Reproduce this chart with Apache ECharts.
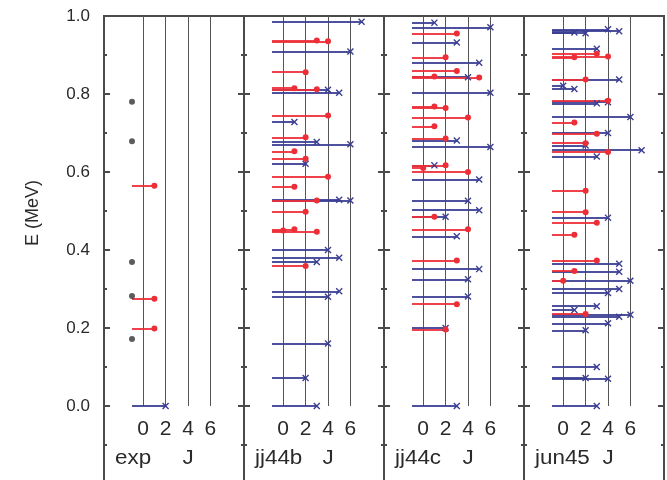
<!DOCTYPE html>
<html><head><meta charset="utf-8">
<script src="https://cdn.jsdelivr.net/npm/echarts@6/dist/echarts.min.js"></script>
<style>html,body{margin:0;padding:0;background:#fff}#c{width:667px;height:480px}</style>
</head><body><div id="c"></div>
<script>
const panelNames = ['exp', 'jj44b', 'jj44c', 'jun45'];
const jTicks = [0, 2, 4, 6];
// levels: [E (MeV), J]
const expUnknown = [0.172, 0.282, 0.369, 0.679, 0.780];
const expRed = [[0.199,1],[0.275,1],[0.565,1]];
const expBlue = [[0.0,2]];
const jj44bRed = [[0.937,3],[0.935,4],[0.856,2],[0.815,1],[0.812,3],[0.745,4],[0.689,2],[0.653,1],[0.634,2],[0.588,4],[0.562,1],[0.527,3],[0.498,2],[0.453,1],[0.450,0],[0.447,3],[0.359,2]];
const jj44bBlue = [[0.985,7],[0.909,6],[0.811,4],[0.803,5],[0.728,1],[0.677,3],[0.671,6],[0.621,2],[0.529,5],[0.527,6],[0.400,4],[0.380,5],[0.369,3],[0.294,5],[0.280,4],[0.160,4],[0.072,2],[0.0,3]];
const jj44cRed = [[0.955,3],[0.894,2],[0.859,3],[0.845,1],[0.842,5],[0.768,1],[0.764,2],[0.740,4],[0.717,1],[0.686,2],[0.617,2],[0.610,0],[0.600,4],[0.485,1],[0.453,4],[0.373,3],[0.261,3],[0.196,2]];
const jj44cBlue = [[0.983,1],[0.971,6],[0.932,3],[0.880,5],[0.843,4],[0.803,6],[0.681,3],[0.664,6],[0.617,1],[0.581,5],[0.526,4],[0.502,5],[0.485,2],[0.435,3],[0.351,5],[0.325,4],[0.281,4],[0.200,2],[0.0,3]];
const jun45Red = [[0.903,3],[0.896,4],[0.894,1],[0.837,2],[0.783,4],[0.727,1],[0.698,3],[0.674,2],[0.651,4],[0.552,2],[0.497,2],[0.470,3],[0.439,1],[0.373,3],[0.346,1],[0.321,0],[0.236,2]];
const jun45Blue = [[0.966,4],[0.961,5],[0.958,1],[0.956,2],[0.916,3],[0.837,5],[0.821,0],[0.813,1],[0.779,4],[0.776,3],[0.741,6],[0.700,4],[0.668,2],[0.656,7],[0.640,3],[0.483,4],[0.365,5],[0.344,5],[0.321,6],[0.300,5],[0.290,4],[0.256,3],[0.246,1],[0.234,6],[0.229,5],[0.212,4],[0.194,2],[0.100,3],[0.072,2],[0.070,4],[0.0,3]];

const redSets = [expRed, jj44bRed, jj44cRed, jun45Red];
const blueSets = [expBlue, jj44bBlue, jj44cBlue, jun45Blue];

const RED = '#ee2e36', BLUE = '#3b3e93', FRAME = '#4a4a4a', TXT = '#2a2a2a';
const FONT = 'Liberation Sans';
const XPATH = 'path://M0,1.4 L1.4,0 L5,3.6 L8.6,0 L10,1.4 L6.4,5 L10,8.6 L8.6,10 L5,6.4 L1.4,10 L0,8.6 L3.6,5 Z';
const lefts = [104, 244, 384, 524];
const PW = 140;

const grids = [], xAxes = [], yAxes = [], series = [], graphics = [];
lefts.forEach((L, i) => {
  grids.push({left: L, top: 16, width: PW, height: 468, show: true, borderColor: FRAME, borderWidth: 2,
    backgroundColor: 'transparent', containLabel: false, outerBoundsMode: 'none'});
  xAxes.push({gridIndex: i, type: 'value', min: -3.5, max: 9, position: 'bottom',
    axisLine: {show: false, onZero: false}, axisTick: {show: false}, splitLine: {show: false},
    axisLabel: {customValues: jTicks, fontSize: 21, color: TXT, fontFamily: FONT, margin: -65, showMinLabel: true, showMaxLabel: true}});
  ['left', 'right'].forEach(pos => {
    yAxes.push({gridIndex: i, type: 'value', min: -0.2, max: 1.0, interval: 0.2, position: pos,
      axisLine: {show: false, onZero: false},
      axisTick: {show: true, inside: true, length: 6, lineStyle: {color: FRAME, width: 2}},
      minorTick: {show: true, splitNumber: 2, length: 3, lineStyle: {color: FRAME, width: 2}},
      splitLine: {show: false}, minorSplitLine: {show: false},
      axisLabel: {show: i === 0 && pos === 'left', fontSize: 17, color: TXT, fontFamily: FONT, margin: 14,
        formatter: v => (v < -0.01 ? '' : v.toFixed(1))}});
  });
  series.push({type: 'lines', coordinateSystem: 'cartesian2d', xAxisIndex: i, yAxisIndex: 2 * i, silent: true,
    data: jTicks.map(j => ({coords: [[j, 0], [j, 1]]})), lineStyle: {color: '#555', width: 1, opacity: 1}, z: 2});
  series.push({type: 'lines', coordinateSystem: 'cartesian2d', xAxisIndex: i, yAxisIndex: 2 * i, silent: true,
    data: blueSets[i].map(([e, j]) => ({coords: [[-1, e], [j, e]]})), lineStyle: {color: BLUE, width: 2, opacity: 0.9}, z: 3});
  series.push({type: 'lines', coordinateSystem: 'cartesian2d', xAxisIndex: i, yAxisIndex: 2 * i, silent: true,
    data: redSets[i].map(([e, j]) => ({coords: [[-1, e], [j, e]]})), lineStyle: {color: RED, width: 2, opacity: 0.9}, z: 4});
  series.push({type: 'scatter', xAxisIndex: i, yAxisIndex: 2 * i, silent: true, symbol: XPATH, symbolSize: 7,
    data: blueSets[i].map(([e, j]) => [j, e]), itemStyle: {color: BLUE, opacity: 1}, z: 5});
  series.push({type: 'scatter', xAxisIndex: i, yAxisIndex: 2 * i, silent: true, symbol: 'circle', symbolSize: 6,
    data: redSets[i].map(([e, j]) => [j, e]), itemStyle: {color: RED, opacity: 1}, z: 6});
  graphics.push({type: 'text', x: L + 11, y: 458, scaleX: 1.12, style: {text: panelNames[i], fill: TXT, font: '20px ' + FONT, textAlign: 'left', textVerticalAlign: 'middle'}});
  graphics.push({type: 'text', x: L + 39.3 + 44.8, y: 458, scaleX: 1.12, style: {text: 'J', fill: TXT, font: '20px ' + FONT, textAlign: 'center', textVerticalAlign: 'middle'}});
});
series.push({type: 'scatter', xAxisIndex: 0, yAxisIndex: 0, silent: true, symbol: 'circle', symbolSize: 6,
  data: expUnknown.map(e => [-1, e]), itemStyle: {color: '#333'}, z: 6});
graphics.push({type: 'text', x: 33, y: 213, rotation: Math.PI / 2, style: {text: 'E (MeV)', fill: TXT, font: '18px ' + FONT, textAlign: 'center', textVerticalAlign: 'middle'}});

const chart = echarts.init(document.getElementById('c'), null, {renderer: 'canvas'});
chart.setOption({animation: false, backgroundColor: '#fff', grid: grids, xAxis: xAxes, yAxis: yAxes, series: series, graphic: graphics});
</script>
</body></html>
